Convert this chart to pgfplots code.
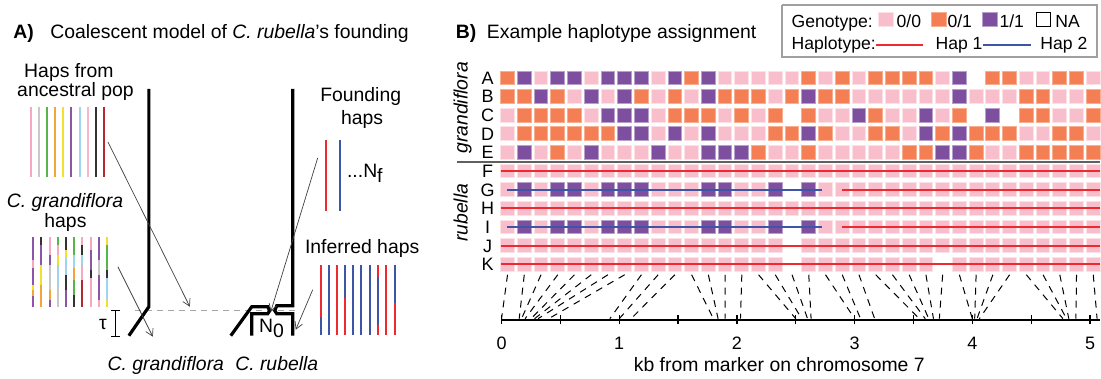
\documentclass[border=0pt]{standalone}
\usepackage{fontspec}
\setmainfont{Liberation Sans}
\usepackage{pgfplots}
\pgfplotsset{compat=1.18}
\usepackage{pgfplotstable}
\usetikzlibrary{arrows.meta}

\definecolor{gpink}{HTML}{F8BECB}
\definecolor{gpinkE}{HTML}{FCE1E7}
\definecolor{gorange}{HTML}{F47F55}
\definecolor{gorangeE}{HTML}{F9AE90}
\definecolor{gpurple}{HTML}{7F4F9F}
\definecolor{gpurpleE}{HTML}{B8A0CC}
\definecolor{hred}{HTML}{EC2A30}
\definecolor{hblue}{HTML}{3D55A5}
\definecolor{legbox}{HTML}{A0A0A0}
\definecolor{sepgray}{HTML}{606060}
% ancestral palette
\definecolor{cpink}{HTML}{F6A8C0}
\definecolor{cgray}{HTML}{C8C8C8}
\definecolor{cgreen}{HTML}{58B548}
\definecolor{corange}{HTML}{F5A33B}
\definecolor{cyellow}{HTML}{F0E030}
\definecolor{cpurple}{HTML}{8D55A8}
\definecolor{cblue}{HTML}{9DD5EE}
\definecolor{clpink}{HTML}{F6B9CC}
\definecolor{cdark}{HTML}{333333}
\definecolor{cdred}{HTML}{B5282E}

% genotype: 0 = 0/0, 1 = 0/1, 2 = 1/1, 3 = NA
\pgfplotstableread{
c A B C D E F G H I J K
0 1 1 0 0 0 0 0 0 0 0 0
1 2 1 1 1 2 0 2 0 2 0 0
2 0 2 1 1 0 0 0 0 0 0 0
3 2 1 1 1 1 0 2 0 2 0 0
4 2 0 1 1 0 0 2 0 2 0 0
5 0 2 0 1 2 0 0 0 0 0 0
6 2 0 2 1 0 0 2 0 2 0 0
7 2 2 2 2 0 0 2 0 2 0 0
8 2 1 2 2 0 0 2 0 2 0 0
9 0 0 0 0 2 0 0 0 0 0 0
10 2 1 1 2 0 0 0 0 0 0 0
11 1 0 1 0 0 0 0 0 0 0 0
12 2 2 1 2 2 0 2 0 2 0 0
13 0 1 0 0 2 0 2 0 2 0 0
14 0 1 1 0 2 0 0 0 0 0 0
15 0 1 0 0 1 0 0 0 0 0 0
16 0 0 1 1 0 0 2 0 2 0 0
17 0 1 3 1 0 0 3 0 3 3 3
18 1 2 1 2 1 0 2 0 2 0 0
19 0 1 0 1 0 0 0 0 0 0 0
20 1 1 0 0 0 0 0 0 0 0 0
21 0 0 2 0 0 0 0 0 0 0 0
22 1 0 1 1 0 0 0 0 0 0 0
23 1 0 0 1 0 0 0 0 0 0 0
24 1 0 0 0 1 0 0 0 0 0 0
25 1 0 2 2 1 0 0 0 0 0 0
26 0 0 0 1 2 0 0 0 0 0 3
27 2 2 1 2 2 0 0 0 0 0 0
28 3 0 3 1 1 0 0 0 0 0 0
29 1 0 2 1 0 0 0 0 0 0 0
30 1 0 3 1 0 0 0 0 0 0 0
31 0 1 1 0 1 0 0 0 0 0 0
32 0 1 1 0 1 0 0 0 0 0 0
33 1 0 0 1 1 0 0 0 0 0 0
34 1 0 0 1 1 0 0 0 0 0 0
35 0 1 1 0 1 0 0 0 0 0 0
}\geno

% marker column -> position (kb)
\pgfplotstableread{
c kb
0 0.00
1 0.15
2 0.17
3 0.20
4 0.25
5 0.28
6 0.31
7 0.40
8 0.92
9 1.00
10 1.10
11 1.80
12 1.84
13 1.90
14 2.03
15 2.50
16 2.55
17 2.60
18 2.63
19 3.00
20 3.05
21 3.17
22 3.55
23 3.60
24 3.63
25 3.67
26 3.72
27 4.00
28 4.02
29 4.04
30 4.06
31 4.77
32 4.80
33 4.82
34 4.88
35 5.06
}\snps

\newcommand{\seg}[4]{\addplot[draw=#4, line width=1pt, mark=none] coordinates {(#1,#2) (#1,#3)};}
\newcommand{\genorow}[2]{\addplot[genostyle] table[x expr={508+16.75*\thisrow{c}}, y expr={#2}, meta=#1] {\geno};}

\pgfplotsset{
  genostyle/.style={only marks, scatter, scatter src=explicit symbolic, mark=square*, mark size=3.45pt,
    mark options={line width=0.5pt},
    scatter/classes={0={mark=square*, fill=gpink, draw=gpinkE},
                     1={mark=square*, fill=gorange, draw=gorangeE},
                     2={mark=square*, fill=gpurple, draw=gpurpleE},
                     3={mark=square*, fill=white, draw=white}}},
}

\begin{document}
\begin{tikzpicture}[
  txt/.style={inner sep=0pt, font=\fontsize{9.7}{11.6}\selectfont},
  leg/.style={inner sep=0pt, font=\fontsize{8.8}{10.5}\selectfont},
  rowlab/.style={inner sep=0pt, font=\fontsize{9}{10.8}\selectfont},
  thin arrow/.style={draw=black!75, line width=0.35pt, -{Straight Barb[length=3.5pt, width=4pt]}},
  popline/.style={draw=black, line width=1.6pt, line join=miter, mark=none}]
\begin{axis}[scale only axis, width=550.5pt, height=189.5pt,
  xmin=0, xmax=1101, ymin=0, ymax=379, y dir=reverse, hide axis, clip=false,
  clip marker paths=true]
\addplot[draw=none, mark=none] coordinates {(0,0) (1101,379)};

% ---------------- Panel A ----------------
\node[txt, anchor=base west] at (axis cs:13,38.5) {\textbf{A)}};
\node[txt, anchor=base west] at (axis cs:50,38.5) {Coalescent model of \textit{C. rubella}’s founding};
\node[txt, anchor=base] at (axis cs:69,77.5) {Haps from};
\node[txt, anchor=base] at (axis cs:75.5,96.7) {ancestral pop};
\node[txt, anchor=base] at (axis cs:65,208) {\textit{C. grandiflora}};
\node[txt, anchor=base] at (axis cs:65.5,228) {haps};
\node[txt, anchor=base] at (axis cs:361,101.7) {Founding};
\node[txt, anchor=base] at (axis cs:362.5,125) {haps};
\node[txt, anchor=base west] at (axis cs:347,178) {...N\raisebox{-0.45ex}{f}};
\node[txt, anchor=base] at (axis cs:362.5,254) {Inferred haps};
\node[txt, anchor=base] at (axis cs:103,330) {τ};
\node[txt, anchor=base west] at (axis cs:259,333) {N\raisebox{-0.45ex}{0}};
\node[txt, anchor=base] at (axis cs:166,371) {\textit{C. grandiflora}};
\node[txt, anchor=base] at (axis cs:277,371) {\textit{C. rubella}};

% ancestral haplotypes
\seg{30.7}{107}{177}{cpink}
\seg{38.7}{107}{177}{cgray}
\seg{47}{107}{177}{cgreen}
\seg{55}{107}{177}{corange}
\seg{63.3}{107}{177}{cyellow}
\seg{71.3}{107}{177}{cpurple}
\seg{79.7}{107}{177}{cblue}
\seg{87.7}{107}{177}{clpink}
\seg{96}{107}{177}{cdark}
\seg{104}{107}{177}{cdred}

% C. grandiflora haplotypes (mosaics)
\seg{33}{237}{260}{cpurple}\seg{33}{260}{268}{cpink}\seg{33}{268}{285}{cpurple}\seg{33}{285}{290}{cyellow}\seg{33}{290}{296}{corange}\seg{33}{296}{307}{cpurple}
\seg{41.5}{237}{245}{cdark}\seg{41.5}{245}{265}{cpurple}\seg{41.5}{265}{285}{cyellow}\seg{41.5}{285}{307}{corange}
\seg{50}{237}{255}{cpink}\seg{50}{255}{265}{cpurple}\seg{50}{265}{290}{cgray}\seg{50}{290}{300}{corange}\seg{50}{300}{307}{cpurple}
\seg{58}{237}{245}{cgreen}\seg{58}{245}{255}{cpink}\seg{58}{255}{265}{cyellow}\seg{58}{265}{285}{cblue}\seg{58}{285}{307}{cgray}
\seg{66.3}{237}{250}{cdark}\seg{66.3}{250}{258}{cyellow}\seg{66.3}{258}{275}{cblue}\seg{66.3}{275}{290}{cdark}\seg{66.3}{290}{307}{cpurple}
\seg{74.3}{237}{255}{cgreen}\seg{74.3}{255}{268}{cblue}\seg{74.3}{268}{280}{corange}\seg{74.3}{280}{295}{cgreen}\seg{74.3}{295}{307}{cdark}
\seg{82.3}{237}{245}{cpink}\seg{82.3}{245}{255}{cdark}\seg{82.3}{255}{265}{cblue}\seg{82.3}{265}{280}{cpink}\seg{82.3}{280}{307}{cdred}
\seg{90.7}{237}{250}{cpink}\seg{90.7}{250}{270}{cpurple}\seg{90.7}{270}{278}{cdark}\seg{90.7}{278}{307}{cpink}
\seg{99}{237}{260}{cpurple}\seg{99}{260}{275}{cgray}\seg{99}{275}{300}{cpurple}\seg{99}{300}{307}{cpink}
\seg{107.3}{237}{245}{cyellow}\seg{107.3}{245}{270}{cgreen}\seg{107.3}{270}{278}{cdark}\seg{107.3}{278}{300}{cblue}\seg{107.3}{300}{307}{cyellow}

% founding haplotypes
\seg{326}{140}{211}{hred}
\seg{340}{140}{211}{hblue}

% inferred haplotypes
\seg{321}{265}{317}{hred}\seg{321}{317}{335}{hblue}
\seg{329}{265}{335}{hblue}
\seg{337.3}{265}{335}{hred}
\seg{345.3}{265}{298}{hblue}\seg{345.3}{298}{335}{hred}
\seg{353.7}{265}{335}{hblue}
\seg{361.7}{265}{335}{hblue}
\seg{370}{265}{335}{hblue}
\seg{378.3}{265}{277}{hred}\seg{378.3}{277}{325}{hblue}\seg{378.3}{325}{335}{hred}
\seg{386.7}{265}{335}{hred}
\seg{395}{265}{303}{hblue}\seg{395}{303}{335}{hred}

% population outlines
\addplot[draw=black!35, line width=0.6pt, dash pattern=on 3pt off 2.5pt, mark=none] coordinates {(135,311) (300,311)};
\addplot[popline] coordinates {(149,89) (149,307) (129,336)};
\addplot[popline] coordinates {(231,336) (252,307) (268,307) (270,311) (268,314) (252,314) (252,336)};
\addplot[popline] coordinates {(293,89) (293,306) (277,306) (275,311) (277,314) (293,314) (293,336)};

% tau bracket
\addplot[draw=black, line width=0.6pt, mark=none] coordinates {(111.5,311) (120.5,311)};
\addplot[draw=black, line width=0.6pt, mark=none] coordinates {(116,311) (116,337)};
\addplot[draw=black, line width=0.6pt, mark=none] coordinates {(111.5,337) (120.5,337)};

% thin arrows
\addplot[thin arrow] coordinates {(108,142) (190,307)};
\addplot[thin arrow] coordinates {(118,267) (153,337)};
\addplot[thin arrow] coordinates {(318,158) (271,312)};
\addplot[thin arrow] coordinates {(313,290) (296,330)};

% ---------------- Panel B ----------------
\node[txt, anchor=base west] at (axis cs:456,38.5) {\textbf{B)}};
\node[txt, anchor=base west] at (axis cs:487,38.5) {Example haplotype assignment};

% legend
\addplot[draw=legbox, line width=1pt, mark=none] coordinates {(783,5) (1098,5) (1098,57) (783,57) (783,5)};
\node[leg, anchor=base west] at (axis cs:792,27.3) {Genotype:};
\addplot[only marks, mark=square*, mark size=3.7pt, mark options={fill=gpink, draw=gpinkE, line width=0.4pt}] coordinates {(886.5,19.5)};
\node[leg, anchor=base west] at (axis cs:897,27.3) {0/0};
\addplot[only marks, mark=square*, mark size=3.7pt, mark options={fill=gorange, draw=gorangeE, line width=0.4pt}] coordinates {(939.5,19.5)};
\node[leg, anchor=base west] at (axis cs:948,27.3) {0/1};
\addplot[only marks, mark=square*, mark size=3.7pt, mark options={fill=gpurple, draw=gpurpleE, line width=0.4pt}] coordinates {(991,19.5)};
\node[leg, anchor=base west] at (axis cs:1000,27.3) {1/1};
\addplot[only marks, mark=square, mark size=3.5pt, mark options={draw=black, line width=0.8pt}] coordinates {(1044.5,19.5)};
\node[leg, anchor=base west] at (axis cs:1056,27.3) {NA};
\node[leg, anchor=base west] at (axis cs:792,49.3) {Haplotype:};
\addplot[color=hred, line width=1pt, mark=none] coordinates {(877,45.5) (924,45.5)};
\node[leg, anchor=base west] at (axis cs:936,49.3) {Hap 1};
\addplot[color=hblue, line width=1pt, mark=none] coordinates {(984,45.5) (1032,45.5)};
\node[leg, anchor=base west] at (axis cs:1041,49.3) {Hap 2};

% group labels
\node[txt, rotate=90, anchor=base] at (axis cs:468,108) {\textit{grandiflora}};
\node[txt, rotate=90, anchor=base] at (axis cs:468,213) {\textit{rubella}};
\addplot[draw=sepgray, line width=1pt, mark=none] coordinates {(457,161.8) (1101,161.8)};

% row labels
\node[rowlab, anchor=base] at (axis cs:488,84.4) {A};
\node[rowlab, anchor=base] at (axis cs:488,103.05) {B};
\node[rowlab, anchor=base] at (axis cs:488,121.7) {C};
\node[rowlab, anchor=base] at (axis cs:488,140.35) {D};
\node[rowlab, anchor=base] at (axis cs:488,159.0) {E};
\node[rowlab, anchor=base] at (axis cs:488,177.65) {F};
\node[rowlab, anchor=base] at (axis cs:488,196.3) {G};
\node[rowlab, anchor=base] at (axis cs:488,214.95) {H};
\node[rowlab, anchor=base] at (axis cs:488,233.6) {I};
\node[rowlab, anchor=base] at (axis cs:488,252.25) {J};
\node[rowlab, anchor=base] at (axis cs:488,270.9) {K};

% genotype grid
\genorow{A}{78}
\genorow{B}{96.65}
\genorow{C}{115.3}
\genorow{D}{133.95}
\genorow{E}{152.6}
\genorow{F}{171.25}
\genorow{G}{189.9}
\genorow{H}{208.55}
\genorow{I}{227.2}
\genorow{J}{245.85}
\genorow{K}{264.5}

% haplotype assignments
\addplot[draw=hred, line width=1pt, mark=none] coordinates {(501,171.25) (1101,171.25)};
\addplot[draw=hblue, line width=0.85pt, mark=none] coordinates {(507,189.9) (823,189.9)};
\addplot[draw=hred, line width=1pt, mark=none] coordinates {(843,189.9) (1101,189.9)};
\addplot[draw=hred, line width=1pt, mark=none] coordinates {(501,208.55) (1101,208.55)};
\addplot[draw=hblue, line width=0.85pt, mark=none] coordinates {(507,227.2) (823,227.2)};
\addplot[draw=hred, line width=1pt, mark=none] coordinates {(843,227.2) (1101,227.2)};
\addplot[draw=hred, line width=1pt, mark=none] coordinates {(501,245.85) (1101,245.85)};
\addplot[draw=hred, line width=1pt, mark=none] coordinates {(501,264.5) (1101,264.5)};

% connectors from grid columns to physical positions
\addplot[draw=black, line width=0.5pt, dash pattern=on 3.5pt off 3pt, mark=none,
  quiver={u={502+117.8*\thisrow{kb}-508-16.75*\thisrow{c}}, v={44}}]
  table[x expr={508+16.75*\thisrow{c}}, y expr={275}] {\snps};
\end{axis}

\begin{axis}[at={(251pt,29.5pt)}, anchor=south west, scale only axis,
  width=299.5pt, height=10pt, xmin=0, xmax=5.085, ymin=0, ymax=1,
  axis x line*=bottom, axis y line=none,
  axis line style={line width=0.8pt, black},
  xtick={0,1,2,3,4,5}, xticklabels={0,1,2,3,4,5},
  minor xtick={0.5,1.5,2.5,3.5,4.5},
  tick align=center, major tick length=4.5pt, minor tick length=4.5pt,
  every tick/.style={black, line width=0.6pt},
  xticklabel style={anchor=base, inner sep=0pt, yshift=-12.5pt, font=\fontsize{9}{10.8}\selectfont},
  xlabel={kb from marker on chromosome 7},
  xlabel style={at={(axis description cs:0.464,0)}, anchor=base, inner sep=0pt, yshift=-25.75pt, font=\fontsize{9.7}{11.6}\selectfont}]
\addplot[draw=none, mark=none] coordinates {(0,0) (5,1)};
\end{axis}
\end{tikzpicture}
\end{document}
